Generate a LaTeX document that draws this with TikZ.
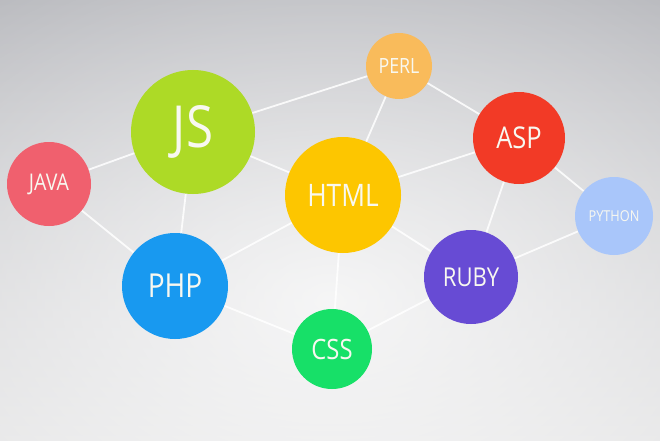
\documentclass[tikz,border=0pt]{standalone}
\usepackage{fontspec}
\setmainfont{Open Sans}[FakeStretch=0.85]
\usepackage{tikz}
\usetikzlibrary{fadings}

\definecolor{bgtop}{HTML}{B2B3B8}
\definecolor{bgbot}{HTML}{E0E0E1}
\definecolor{perlcol}{HTML}{F9BB5B}
\definecolor{jscol}{HTML}{ADDA26}
\definecolor{aspcol}{HTML}{F23A26}
\definecolor{javacol}{HTML}{F0606E}
\definecolor{htmlcol}{HTML}{FDC600}
\definecolor{pycol}{HTML}{A9C6FA}
\definecolor{phpcol}{HTML}{1899F0}
\definecolor{rubycol}{HTML}{674BD4}
\definecolor{csscol}{HTML}{17E068}
\definecolor{labcol}{HTML}{F8F8F0}

\newcommand\langsize[1]{\fontsize{#1}{#1}\selectfont}
\tikzfading[name=glow, inner color=transparent!0, outer color=transparent!100]
\pgfdeclarelayer{back}
\pgfdeclarelayer{links}
\pgfsetlayers{back,links,main}

\begin{document}
\begin{tikzpicture}[x=1pt, y=1pt,
  lang/.style={circle, inner sep=0pt, text=labcol},
  link/.style={draw=white, line width=1.8pt, opacity=0.85}]
\useasboundingbox (0,0) rectangle (660,440);
\begin{pgfonlayer}{back}
\shade[top color=bgtop, bottom color=bgbot] (0,0) rectangle (660,440);
\clip (0,0) rectangle (660,440);
\fill[white, opacity=0.8, path fading=glow] (330,140) ellipse (640 and 440);
\end{pgfonlayer}
% the languages
\node[lang, fill=perlcol, minimum size=66pt, font=\langsize{21}]  (perl) at (399,374) {PERL};
\node[lang, fill=jscol, minimum size=124pt, font=\langsize{58}]   (js)   at (193,308) {JS};
\node[lang, fill=aspcol, minimum size=92pt, font=\langsize{30}]   (asp)  at (519,302) {ASP};
\node[lang, fill=javacol, minimum size=84pt, font=\langsize{23}]  (java) at (49,256)  {JAVA};
\node[lang, fill=htmlcol, minimum size=116pt, font=\langsize{31}] (html) at (343,245) {HTML};
\node[lang, fill=pycol, minimum size=78pt, font=\langsize{15}]    (py)   at (614,224) {PYTHON};
\node[lang, fill=phpcol, minimum size=106pt, font=\langsize{33}]  (php)  at (175,154) {PHP};
\node[lang, fill=rubycol, minimum size=94pt, font=\langsize{26}]  (ruby) at (471,163) {RUBY};
\node[lang, fill=csscol, minimum size=80pt, font=\langsize{28}]   (css)  at (332,91)  {CSS};
% links behind the circles
\begin{pgfonlayer}{links}
\draw[link] (java) -- (js);
\draw[link] (java) -- (php);
\draw[link] (js) -- (perl);
\draw[link] (js) -- (html);
\draw[link] (js) -- (php);
\draw[link] (perl) -- (html);
\draw[link] (perl) -- (asp);
\draw[link] (html) -- (asp);
\draw[link] (html) -- (php);
\draw[link] (html) -- (css);
\draw[link] (html) -- (ruby);
\draw[link] (asp) -- (ruby);
\draw[link] (asp) -- (py);
\draw[link] (ruby) -- (py);
\draw[link] (php) -- (css);
\draw[link] (ruby) -- (css);
\end{pgfonlayer}
\end{tikzpicture}
\end{document}
